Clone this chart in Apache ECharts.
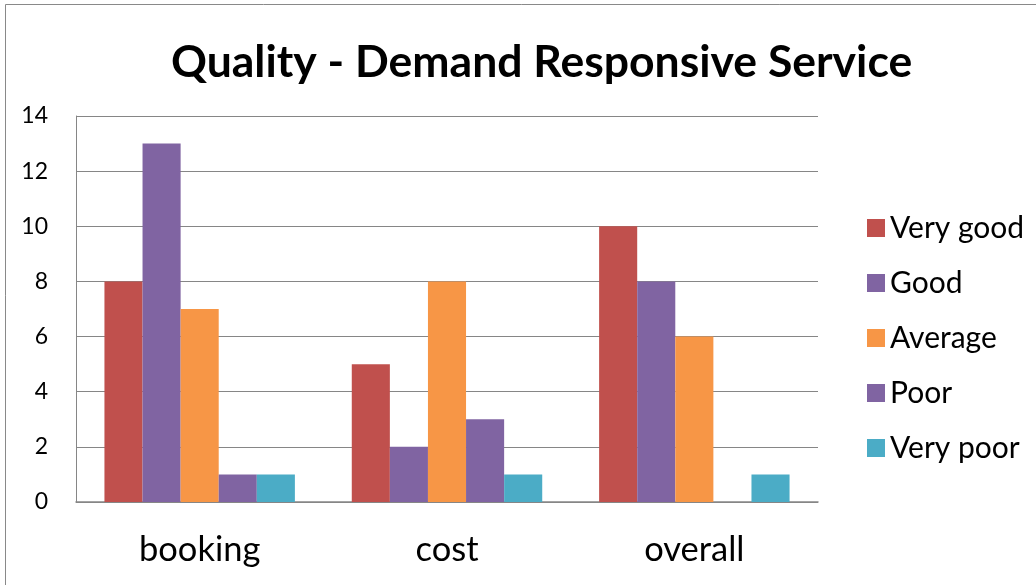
<!DOCTYPE html>
<html><head><meta charset="utf-8">
<script src="https://cdn.jsdelivr.net/npm/echarts@6/dist/echarts.min.js"></script>
<style>html,body{margin:0;padding:0;background:#fff}#c{width:1036px;height:585px}</style>
</head><body><div id="c"></div>
<script>
const categories = ['booking', 'cost', 'overall'];
const seriesNames = ['Very good', 'Good', 'Average', 'Poor', 'Very poor'];
const veryGood = [8, 5, 10];
const good = [13, 2, 8];
const average = [7, 8, 6];
const poor = [1, 3, 0];
const veryPoor = [1, 1, 1];
const colors = ['#C0504D', '#8064A2', '#F79646', '#8064A2', '#4BACC6'];
const seriesData = [veryGood, good, average, poor, veryPoor];

const chart = echarts.init(document.getElementById('c'), null, {renderer: 'canvas'});
chart.setOption({
  animation: false,
  backgroundColor: '#fff',
  graphic: [{type: 'rect', shape: {x: 5.5, y: 4.5, width: 1100, height: 700}, style: {fill: 'none', stroke: '#898989', lineWidth: 1}, silent: true}],
  title: {
    text: 'Quality - Demand Responsive Service',
    left: 166, top: 35,
    textStyle: {fontFamily: 'Lato', fontWeight: 'bold', fontSize: 44.5, color: '#000'}
  },
  legend: {
    orient: 'vertical', left: 862, top: 206,
    itemWidth: 18, itemHeight: 18, itemGap: 21, icon: 'rect',
    textStyle: {fontFamily: 'Lato', fontSize: 30, color: '#000', lineHeight: 34, padding: [0, 0, 0, 0]},
    data: seriesNames
  },
  grid: {left: 76, right: 218, top: 116, bottom: 83, containLabel: false},
  xAxis: {
    type: 'category', data: categories,
    axisLine: {lineStyle: {color: '#868686', width: 1.5}},
    axisTick: {show: false},
    axisLabel: {fontFamily: 'Lato', fontSize: 34.5, color: '#000', margin: 30}
  },
  yAxis: {
    type: 'value', min: 0, max: 14, interval: 2,
    axisLine: {show: true, lineStyle: {color: '#868686'}},
    axisTick: {show: false},
    splitLine: {lineStyle: {color: '#868686'}},
    axisLabel: {fontFamily: 'Lato', fontSize: 23, color: '#000', margin: 28}
  },
  series: seriesNames.map((n, i) => ({
    name: n, type: 'bar', data: seriesData[i],
    barGap: '0%', barCategoryGap: '23%',
    itemStyle: {color: colors[i]}
  }))
});
</script></body></html>
